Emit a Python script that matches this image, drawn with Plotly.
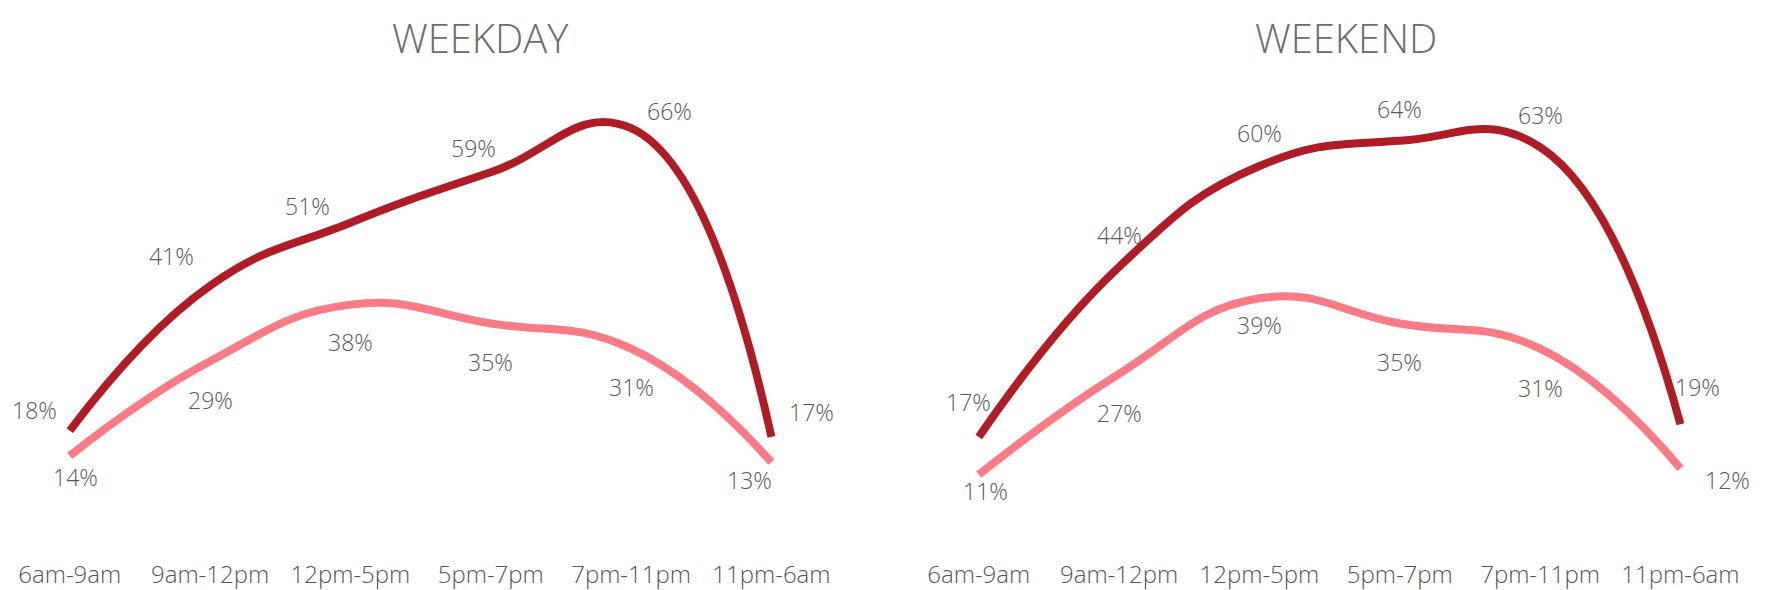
import plotly.graph_objects as go

categories = ["6am-9am", "9am-12pm", "12pm-5pm", "5pm-7pm", "7pm-11pm", "11pm-6am"]
weekday_dark = [18, 41, 51, 59, 66, 17]
weekday_pink = [14, 29, 38, 35, 31, 13]
weekend_dark = [17, 44, 60, 64, 63, 19]
weekend_pink = [11, 27, 39, 35, 31, 12]
titles = ["WEEKDAY", "WEEKEND"]

# label offsets in pixels (dx, dy) -- style only
off_wd_dark = [(-35, 21), (-39, 30), (-43, 17), (-17, 24), (38, 17), (40, 25)]
off_wd_pink = [(6, -21), (0, -39), (0, -37), (0, -38), (0, -38), (-22, -18)]
off_we_dark = [(-10, 35), (0, 32), (0, 33), (0, 32), (0, 32), (17, 37)]
off_we_pink = [(7, -16), (0, -39), (0, -27), (0, -38), (0, -39), (47, -12)]

DARK = "#B01C26"
PINK = "#F97B86"
TXT = "#595959"
FONT = "Open Sans"

fig = go.Figure()
panels = [
    ("x", "y", weekday_dark, weekday_pink, off_wd_dark, off_wd_pink),
    ("x2", "y2", weekend_dark, weekend_pink, off_we_dark, off_we_pink),
]
annotations = []
for xa, ya, dark, pink, od, op in panels:
    for vals, col, offs in ((pink, PINK, op), (dark, DARK, od)):
        fig.add_trace(go.Scatter(
            x=categories, y=vals, xaxis=xa, yaxis=ya, mode="lines",
            line=dict(color=col, width=8, shape="spline", smoothing=1.3),
            hoverinfo="skip", showlegend=False, cliponaxis=False))
        for c, v, (dx, dy) in zip(categories, vals, offs):
            annotations.append(dict(
                x=c, y=v, xref=xa, yref=ya, text=f"{v}%", showarrow=False,
                xshift=dx, yshift=dy,
                font=dict(family=FONT, size=23, color=TXT, weight=300)))

title_x = [472 / 1751, 1338 / 1751]
for t, tx in zip(titles, title_x):
    annotations.append(dict(
        x=tx, y=1, xref="paper", yref="paper", xanchor="center", yanchor="top",
        yshift=94, borderpad=0, text=t, showarrow=False,
        font=dict(family=FONT, size=40, color="#6b6b6b", weight=300)))

axis_common = dict(showgrid=False, zeroline=False, showline=False, ticks="",
                   range=[-0.44, 5.56], fixedrange=True, ticklabelstandoff=14,
                   tickfont=dict(family=FONT, size=24, color="#555555", weight=300))
yaxis_common = dict(visible=False, range=[0, 70], fixedrange=True)

fig.update_layout(
    width=1769, height=590,
    margin=dict(l=0, r=18, t=95, b=54),
    paper_bgcolor="white", plot_bgcolor="white",
    xaxis=dict(domain=[0, 842 / 1751], **axis_common),
    xaxis2=dict(domain=[909 / 1751, 1], **axis_common),
    yaxis=dict(anchor="x", **yaxis_common),
    yaxis2=dict(anchor="x2", **yaxis_common),
    annotations=annotations,
    font=dict(family=FONT),
)

fig.write_html("out.html")
